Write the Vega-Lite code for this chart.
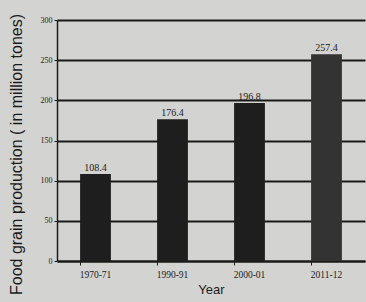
{
  "$schema": "https://vega.github.io/schema/vega-lite/v6.json",
  "autosize": "none",
  "padding": {"left": 57, "top": 20, "right": 1, "bottom": 41},
  "width": 308,
  "height": 241,
  "background": "#d3d3d1",
  "data": {"values": [
    {"year": "1970-71", "value": 108.4},
    {"year": "1990-91", "value": 176.4},
    {"year": "2000-01", "value": 196.8},
    {"year": "2011-12", "value": 257.4}
  ]},
  "config": {
    "view": {"stroke": null},
    "axis": {"domainColor": "#1a1a1a", "tickColor": "#1a1a1a", "labelColor": "#1a1a1a", "titleColor": "#1a1a1a"}
  },
  "encoding": {
    "x": {"field": "year", "type": "nominal", "sort": null,
      "scale": {"paddingInner": 0.6, "paddingOuter": 0.3},
      "axis": {"title": "Year", "labelAngle": 0, "labelFont": "Liberation Serif", "labelFontSize": 9.5, "labelPadding": 4,
        "titleFont": "Liberation Sans", "titleFontSize": 13, "titleFontWeight": "normal", "titlePadding": 5,
        "bandPosition": 0, "tickSize": 4, "domainWidth": 2}},
    "y": {"field": "value", "type": "quantitative",
      "scale": {"domain": [0, 300]},
      "axis": {"title": "Food grain production ( in million tones)", "values": [0, 50, 100, 150, 200, 250, 300],
        "labelFont": "Liberation Serif", "labelFontSize": 8, "labelPadding": 2, "tickSize": 3,
        "grid": true, "gridColor": "#1a1a1a", "gridWidth": 2, "gridOpacity": 1, "domainWidth": 1.5,
        "titleFont": "Liberation Sans", "titleFontSize": 16, "titleFontWeight": "normal", "titlePadding": 16, "titleY": 134}}
  },
  "layer": [
    {"mark": {"type": "bar"},
     "encoding": {"color": {"condition": {"test": "datum.year === '2011-12'", "value": "#333333"}, "value": "#1e1e1e"}}},
    {"mark": {"type": "text", "dy": -6, "font": "Liberation Serif", "fontSize": 10, "color": "#1a1a1a"},
     "encoding": {"text": {"field": "value", "type": "quantitative", "format": ".1f"}}}
  ]
}
